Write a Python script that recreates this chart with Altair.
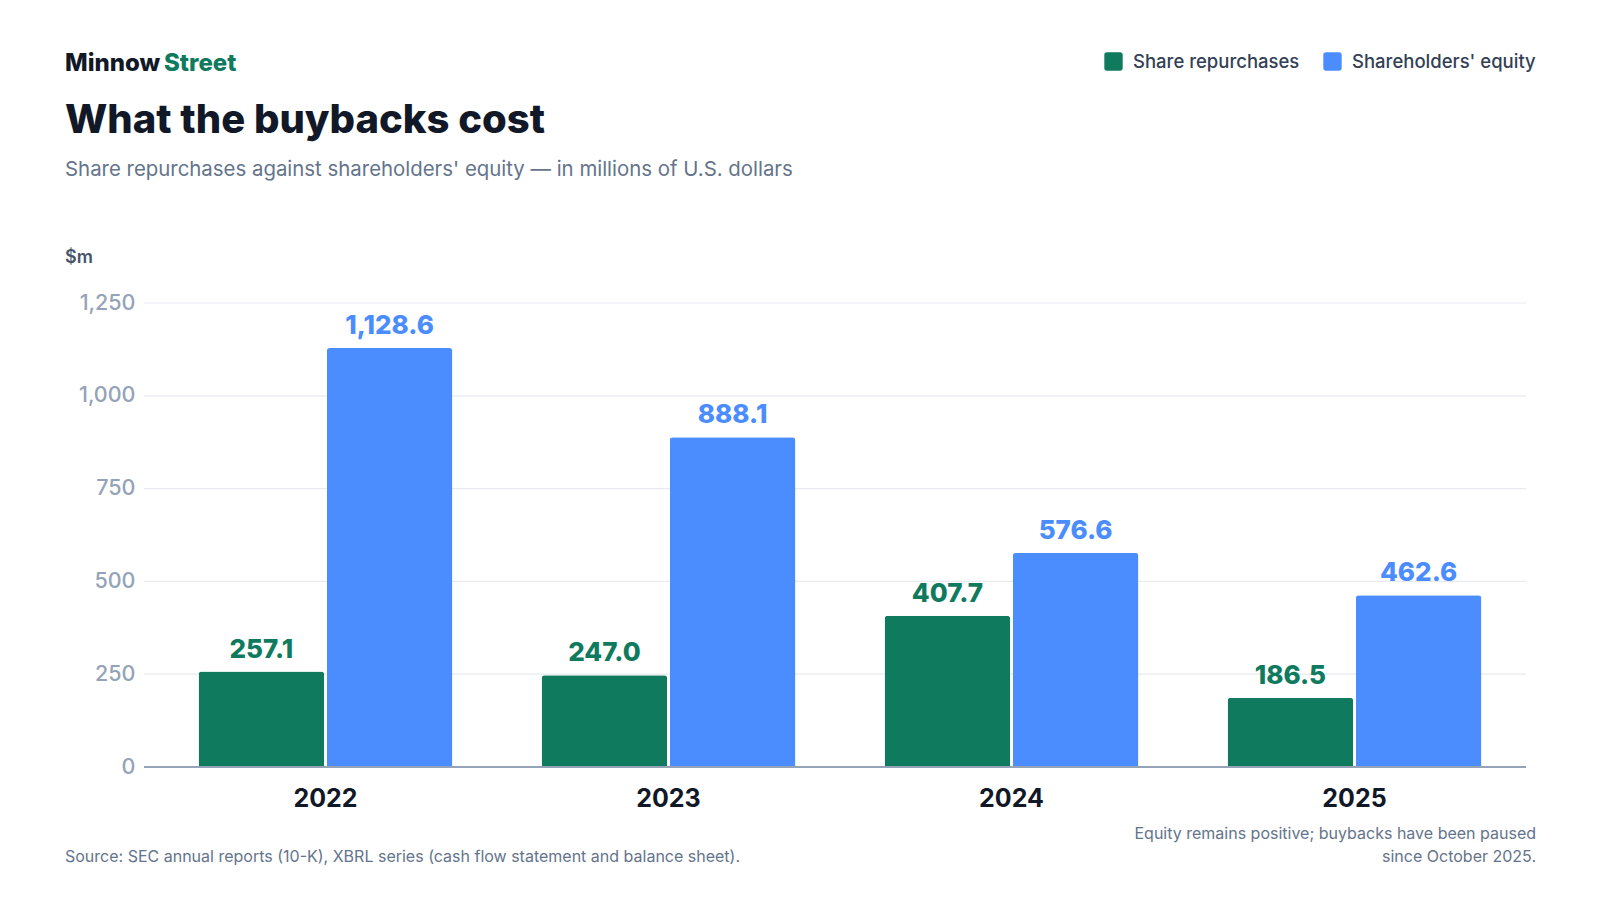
import altair as alt
import pandas as pd

years = ["2022", "2023", "2024", "2025"]
series_names = ["Share repurchases", "Shareholders' equity"]
repurchases = [257.1, 247.0, 407.7, 186.5]
equity = [1128.6, 888.1, 576.6, 462.6]
y_ticks = [0, 250, 500, 750, 1000, 1250]
colors = ["#0f7a5e", "#4b8dff"]

rows = []
for i, yr in enumerate(years):
    rows.append({"year": yr, "series": series_names[0], "value": repurchases[i]})
    rows.append({"year": yr, "series": series_names[1], "value": equity[i]})
df = pd.DataFrame(rows)

FONT = "Inter"
PLOT_W, PLOT_H = 1382, 464

color_scale = alt.Scale(domain=series_names, range=colors)
y_scale = alt.Scale(domain=[0, 1250], nice=False)
x_enc = alt.X(
    "year:N",
    sort=years,
    scale=alt.Scale(range=[10, 1382], paddingInner=0.26, paddingOuter=0.13),
    axis=alt.Axis(
        title=None,
        labelFont=FONT,
        labelFontSize=25,
        labelFontWeight=700,
        labelColor="#111827",
        labelBaseline="alphabetic",
        labelPadding=39,
        ticks=False,
        tickSize=0,
        domain=False,
        grid=False,
        labelAngle=0,
    ),
)
xoff = alt.XOffset("series:N", sort=series_names, scale=alt.Scale(paddingInner=0.02, paddingOuter=0))
y_enc = alt.Y(
    "value:Q",
    scale=y_scale,
    axis=alt.Axis(
        title=None,
        values=y_ticks,
        format=",.0f",
        labelFont=FONT,
        labelFontSize=21.5,
        labelFontWeight=500,
        labelColor="#94a3b8",
        labelPadding=9,
        ticks=False,
        tickSize=0,
        domain=False,
        grid=False,
    ),
)

grid = alt.Chart(pd.DataFrame({"v": y_ticks[1:]})).mark_rule(color="#e8eaef", strokeWidth=1.2).encode(
    y=alt.Y("v:Q", scale=y_scale), x=alt.value(0), x2=alt.value(PLOT_W)
)

bars = alt.Chart(df).mark_bar(cornerRadiusTopLeft=3, cornerRadiusTopRight=3).encode(
    x=x_enc,
    xOffset=xoff,
    y=y_enc,
    color=alt.Color(
        "series:N",
        scale=color_scale,
        sort=series_names,
        legend=alt.Legend(
            title=None,
            orient="none",
            direction="horizontal",
            legendX=960,
            legendY=-251,
            labelFont=FONT,
            labelFontSize=18.5,
            labelFontWeight=500,
            labelColor="#334155",
            labelLimit=400,
            symbolType="M-0.7,-1H0.7Q1,-1 1,-0.7V0.7Q1,1 0.7,1H-0.7Q-1,1 -1,0.7V-0.7Q-1,-1 -0.7,-1Z",
            symbolSize=338,
            symbolStrokeWidth=0,
            symbolOpacity=1,
            labelOffset=10,
            columnPadding=23,
            padding=0,
        ),
    ),
)

labels = alt.Chart(df).mark_text(
    font=FONT, fontSize=26, fontWeight=800, baseline="alphabetic", align="center", dy=-14
).encode(
    x=alt.X("year:N", sort=years),
    xOffset=alt.XOffset("series:N", sort=series_names),
    y=alt.Y("value:Q"),
    text=alt.Text("value:Q", format=",.1f"),
    color=alt.Color("series:N", scale=color_scale, sort=series_names, legend=None),
)

baseline_rule = alt.Chart(pd.DataFrame({"v": [0]})).mark_rule(color="#94a3b8", strokeWidth=2).encode(
    y=alt.Y("v:Q"), x=alt.value(0), x2=alt.value(PLOT_W)
)


def txt(s, x, y, size, color, weight=400, align="left"):
    return alt.Chart(pd.DataFrame({"t": [s]})).mark_text(
        font=FONT, fontSize=size, fontWeight=weight, color=color, align=align, baseline="alphabetic"
    ).encode(x=alt.value(x), y=alt.value(y), text="t:N")


brand1 = txt("Minnow", -79, -232, 24, "#111827", 800)
brand2 = txt("Street", 20, -232, 24, "#0f7a5e", 800)
title = txt("What the buybacks cost", -79, -170, 40, "#111827", 800)
subtitle = txt("Share repurchases against shareholders' equity — in millions of U.S. dollars", -79, -127, 20.4, "#64748b", 400)
unit = txt("$m", -79, -40, 18, "#475569", 600)
source = txt("Source: SEC annual reports (10-K), XBRL series (cash flow statement and balance sheet).", -79, 559, 16, "#64748b", 400)
note1 = txt("Equity remains positive; buybacks have been paused", 1392, 536, 16, "#64748b", 400, "right")
note2 = txt("since October 2025.", 1392, 559, 16, "#64748b", 400, "right")

chart = alt.layer(
    grid, bars, labels, baseline_rule, brand1, brand2, title, subtitle, unit, source, note1, note2
).properties(
    width=PLOT_W,
    height=PLOT_H,
    autosize=alt.AutoSizeParams(type="none"),
    padding={"left": 136, "top": 295, "right": 66, "bottom": 125},
    background="white",
).configure_view(stroke=None)

chart.save("out.html", embed_options={"renderer": "svg", "actions": False})
